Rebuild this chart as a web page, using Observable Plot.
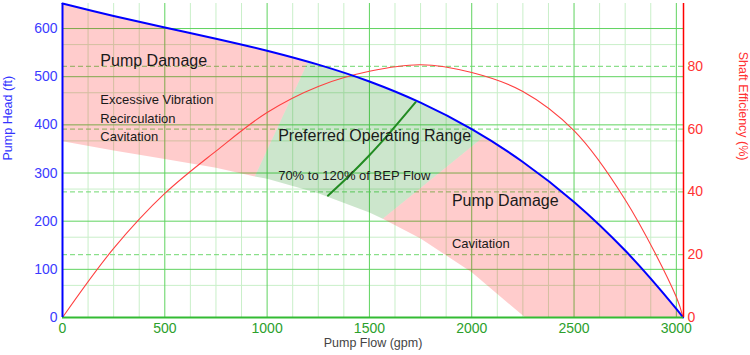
<!DOCTYPE html>
<html>
<head>
<meta charset="utf-8">
<script src="https://cdn.jsdelivr.net/npm/d3@7"></script>
<script src="https://cdn.jsdelivr.net/npm/@observablehq/plot@0.6"></script>
<style>
  html, body { margin: 0; padding: 0; background: #fff; }
  #chart svg { display: block; }
</style>
</head>
<body>
<div id="chart"></div>
<script>
// ---- data ----
const flow       = [0, 250, 500, 750, 1000, 1250, 1500, 1750, 2000, 2250, 2500, 2750, 3000, 3033];
const head       = [652, 626, 602, 579, 554, 525, 490, 446, 391, 323, 240, 139, 18, 0];
const efficiency = [0, 22, 39.5, 53, 65.3, 73.6, 78.4, 80.5, 78, 72, 59.5, 37.5, 6.5, 0];
// lower (reduced speed) boundary of the operating band
const lowFlow    = [0, 250, 500, 750, 1000, 1250, 1500, 1750, 2000, 2250, 2260];
const lowHead    = [366, 347, 329, 311, 288, 258, 218, 164, 94, 4, 0];
// BEP line
const bepFlow    = [1297, 1400, 1500, 1600, 1726];
const bepHead    = [253, 294, 337, 384, 447];
// 70% / 120% of BEP boundaries [top, bottom]
const minFlowQ   = [1200, 940];
const minFlowH   = [531, 293];
const maxFlowQ   = [2060, 1565];
const maxFlowH   = [376, 205];
// axes
const headTicks  = [0, 100, 200, 300, 400, 500, 600];
const effTicks   = [0, 20, 40, 60, 80];
const flowTicks  = [0, 500, 1000, 1500, 2000, 2500, 3000];
const headMax = 652, effMax = 100, flowMax = 3035;
const k = headMax / effMax; // efficiency -> head units

// ---- derived tables ----
const pump = flow.map((q, i) => ({x: q, y: head[i]}));
const eff  = flow.map((q, i) => ({x: q, e: efficiency[i]}));
const low  = lowFlow.map((q, i) => ({x: q, y: lowHead[i]}));
const bep  = bepFlow.map((q, i) => ({x: q, y: bepHead[i]}));
const P = (q, h) => ({x: q, y: h});

const leftPink = [
  ...pump.filter(d => d.x < minFlowQ[0]),
  P(minFlowQ[0], minFlowH[0]), P(minFlowQ[1], minFlowH[1]),
  ...low.filter(d => d.x < minFlowQ[1]).reverse()
];
const greenZone = [
  P(minFlowQ[0], minFlowH[0]),
  ...pump.filter(d => d.x > minFlowQ[0] && d.x < maxFlowQ[0]),
  P(maxFlowQ[0], maxFlowH[0]), P(maxFlowQ[1], maxFlowH[1]),
  ...low.filter(d => d.x > minFlowQ[1] && d.x < maxFlowQ[1]).reverse(),
  P(minFlowQ[1], minFlowH[1])
];
const rightPink = [
  P(maxFlowQ[0], maxFlowH[0]),
  ...pump.filter(d => d.x > maxFlowQ[0]),
  ...low.filter(d => d.x > maxFlowQ[1]).reverse(),
  P(maxFlowQ[1], maxFlowH[1])
];

const minorX = d3.range(125, 3001, 125).filter(v => v % 500 !== 0);
const majorX = flowTicks.filter(v => v > 0);
const majorY = headTicks.filter(v => v > 0);
const minorY = d3.range(0, 6).map(i => 66.7 + 100 * i);

const font = "Arial, 'Liberation Sans', sans-serif";
const txt = "#1a1a1a";

const chart = Plot.plot({
  width: 750,
  height: 355,
  marginLeft: 62,
  marginRight: 67,
  marginTop: 3,
  marginBottom: 38,
  style: {fontFamily: font, fontSize: "13px", background: "#fff", overflow: "visible"},
  x: {domain: [0, flowMax]},
  y: {domain: [0, headMax]},
  marks: [
    // grid
    Plot.ruleX(minorX, {stroke: "#c9efc9", strokeWidth: 1}),
    Plot.ruleY(minorY, {stroke: "#c9efc9", strokeWidth: 1}),
    Plot.ruleX(majorX, {stroke: "#5fd35f", strokeWidth: 1}),
    Plot.ruleY(majorY, {stroke: "#5fd35f", strokeWidth: 1}),
    Plot.ruleY(effTicks.filter(v => v > 0).map(v => v * k), {stroke: "#6fd86f", strokeWidth: 1, strokeDasharray: "5,3"}),
    // zones
    Plot.line(leftPink, {x: "x", y: "y", fill: "rgba(255,0,0,0.2)", stroke: "none"}),
    Plot.line(greenZone, {x: "x", y: "y", fill: "rgba(0,128,0,0.2)", stroke: "none"}),
    Plot.line(rightPink, {x: "x", y: "y", fill: "rgba(255,0,0,0.2)", stroke: "none"}),
    // curves
    Plot.line(eff, {x: "x", y: d => d.e * k, stroke: "#ff4040", strokeWidth: 1.1, curve: "catmull-rom"}),
    Plot.line(pump, {x: "x", y: "y", stroke: "#0000ff", strokeWidth: 2, curve: "catmull-rom"}),
    Plot.line(bep, {x: "x", y: "y", stroke: "#228b22", strokeWidth: 2, curve: "catmull-rom"}),
    // axis lines
    Plot.ruleY([0], {stroke: "#33bb33", strokeWidth: 2}),
    Plot.ruleX([0], {stroke: "#0000ff", strokeWidth: 2}),
    Plot.ruleX([flowMax], {stroke: "#ff0000", strokeWidth: 1.5}),
    // axes
    Plot.axisY(headTicks, {anchor: "left", tickSize: 0, tickPadding: 5, label: null, color: "#3b3bff", fontSize: 14, tickFormat: d => String(d)}),
    Plot.axisY(effTicks.map(v => v * k), {anchor: "right", tickSize: 0, tickPadding: 4, label: null, color: "#ff3333", fontSize: 14, tickFormat: d => String(Math.round(d / k))}),
    Plot.axisX(flowTicks, {anchor: "bottom", tickSize: 0, tickPadding: 6, label: null, color: "#2ca02c", fontSize: 14, tickFormat: d => String(d)}),
    // axis titles
    Plot.text(["Pump Head (ft)"], {frameAnchor: "left", dx: -55, rotate: -90, fill: "#3333ff", fontSize: 12.5, text: d => d}),
    Plot.text(["Shaft Efficiency (%)"], {frameAnchor: "right", dx: 59, rotate: 90, fill: "#ff3333", fontSize: 12.5, text: d => d}),
    Plot.text(["Pump Flow (gpm)"], {frameAnchor: "bottom", dy: 29, fill: "#444", fontSize: 12.5, text: d => d}),
    // annotations
    Plot.text(["Pump Damage"], {x: 185, y: 532, text: d => d, textAnchor: "start", fontSize: 16, fill: txt}),
    Plot.text(["Excessive Vibration"], {x: 185, y: 451, text: d => d, textAnchor: "start", fontSize: 13, fill: txt}),
    Plot.text(["Recirculation"], {x: 185, y: 413, text: d => d, textAnchor: "start", fontSize: 13, fill: txt}),
    Plot.text(["Cavitation"], {x: 185, y: 376, text: d => d, textAnchor: "start", fontSize: 13, fill: txt}),
    Plot.text(["Preferred Operating Range"], {x: 1054, y: 378, text: d => d, textAnchor: "start", fontSize: 16, fill: txt}),
    Plot.text(["70% to 120% of BEP Flow"], {x: 1054, y: 295, text: d => d, textAnchor: "start", fontSize: 13, fill: txt}),
    Plot.text(["Pump Damage"], {x: 1903, y: 242, text: d => d, textAnchor: "start", fontSize: 16, fill: txt}),
    Plot.text(["Cavitation"], {x: 1903, y: 154, text: d => d, textAnchor: "start", fontSize: 13, fill: txt})
  ]
});
document.getElementById("chart").appendChild(chart);
</script>
</body>
</html>
